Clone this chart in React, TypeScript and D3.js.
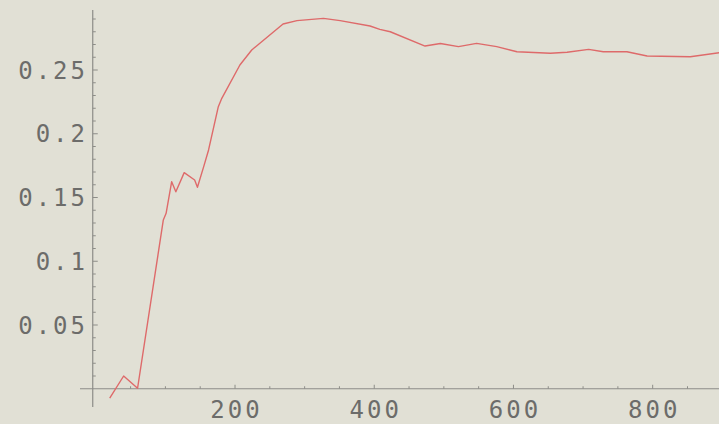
import React, { useEffect } from "react";
import * as d3 from "d3";

const xValues = [20, 40, 60, 97, 101, 109, 115, 127, 142, 146, 155, 162, 176, 181, 207, 224, 269, 289, 327, 351, 394, 408, 423, 473, 495, 521, 547, 576, 605, 653, 677, 708, 729, 763, 792, 854, 896];
const yValues = [-0.0073, 0.01, 0.0004, 0.1324, 0.1376, 0.1624, 0.1545, 0.1695, 0.1637, 0.158, 0.1742, 0.1873, 0.2212, 0.2278, 0.2539, 0.2657, 0.2861, 0.2887, 0.2905, 0.2887, 0.2845, 0.2819, 0.28, 0.2688, 0.2708, 0.2683, 0.2709, 0.2683, 0.2643, 0.2631, 0.2639, 0.2662, 0.2643, 0.2643, 0.261, 0.2604, 0.2636];
const xTickLabels = [200, 400, 600, 800];
const yTickLabels = ["0.05", "0.1", "0.15", "0.2", "0.25"];

const W = 719;
const H = 424;

export default function App() {
  useEffect(() => {
    document.body.style.margin = "0";
    document.body.style.background = "#e1e0d5";
  }, []);

  const x = d3.scaleLinear().domain([0, 900]).range([95.8, 95.8 + 0.6961 * 900]);
  const y = d3.scaleLinear().domain([0, 0.3]).range([388.75, 388.75 - 0.3 * 1275]);
  const axisX = x(-4.4);
  const axisY = y(0);

  const pts: [number, number][] = xValues.map((v, i) => [v, yValues[i]]);
  const line = d3.line<[number, number]>().x((d) => x(d[0])).y((d) => y(d[1]));

  const xMinor = d3.range(50, 1001, 50);
  const yMinor = d3.range(1, 30).map((i) => i / 100);
  const axisColor = "#8d8d88";
  const textColor = "#6c6c6a";
  const font = "'DejaVu Sans Mono', 'Liberation Mono', monospace";

  return (
    <svg width={W} height={H} style={{ position: "absolute", left: 0, top: 0, display: "block" }}>
      <rect x={0} y={0} width={W} height={H} fill="#e1e0d5" />
      <line x1={80} x2={W} y1={axisY} y2={axisY} stroke={axisColor} strokeWidth={1.2} />
      <line x1={axisX} x2={axisX} y1={10} y2={407} stroke={axisColor} strokeWidth={1.2} />
      {xMinor.map((v) => {
        const major = v % 200 === 0;
        return (
          <line key={"xm" + v} x1={x(v)} x2={x(v)} y1={axisY} y2={axisY - (major ? 4 : 2.5)} stroke={axisColor} strokeWidth={1} />
        );
      })}
      {yMinor.map((v) => {
        const major = Math.round(v * 100) % 5 === 0;
        return (
          <line key={"ym" + v} x1={axisX} x2={axisX + (major ? 5 : 3)} y1={y(v)} y2={y(v)} stroke={axisColor} strokeWidth={1} />
        );
      })}
      {xTickLabels.map((v) => (
        <text key={"xl" + v} x={x(v) + 1.5} y={418} textAnchor="middle" fontFamily={font} fontSize={24} letterSpacing={3} fill={textColor}>
          {v}
        </text>
      ))}
      {yTickLabels.map((t) => (
        <text key={"yl" + t} x={88} y={y(+t) + 8.5} textAnchor="end" fontFamily={font} fontSize={24} letterSpacing={3} fill={textColor}>
          {t}
        </text>
      ))}
      <path d={line(pts) || ""} fill="none" stroke="#de6a6a" strokeWidth={1.4} strokeLinejoin="round" />
    </svg>
  );
}
